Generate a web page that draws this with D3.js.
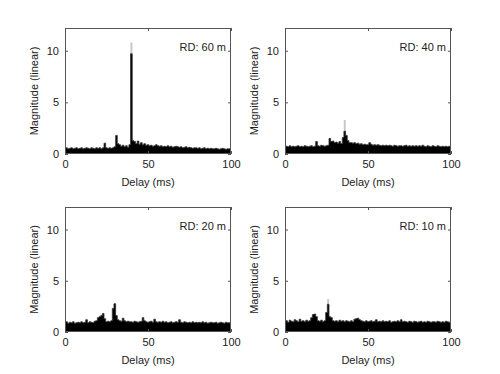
<!DOCTYPE html>
<html>
<head>
<meta charset="utf-8">
<script src="https://cdn.jsdelivr.net/npm/d3@7"></script>
<style>
  html, body { margin: 0; padding: 0; background: #fff; }
  svg { display: block; }
  text { font-family: "Liberation Sans", Arial, sans-serif; fill: #222; }
</style>
</head>
<body>
<svg id="chart" width="500" height="374"></svg>
<script>
// ---- data ----
const panelLabels = ["RD: 60 m", "RD: 40 m", "RD: 20 m", "RD: 10 m"];
const xTicks = [0, 50, 100];
const yTicks = [0, 5, 10];
const xLabel = "Delay (ms)";
const yLabel = "Magnitude (linear)";

// magnitude per 1 ms of delay, 0..100 ms
const magRD60 = [
  0.55,0.6,0.5,0.55,0.6,0.5,0.55,0.6,0.5,0.55,
  0.6,0.5,0.55,0.6,0.55,0.5,0.6,0.55,0.5,0.6,
  0.55,0.6,0.5,0.6,1.05,0.6,0.55,0.6,0.55,0.6,
  0.7,1.8,1.0,0.9,0.75,0.85,0.7,0.8,0.65,0.9,
  9.7,1.3,1.2,1.0,1.25,0.95,1.1,0.9,1.0,0.85,
  0.9,0.8,0.85,0.75,0.8,0.9,0.8,0.75,0.8,0.7,
  0.75,0.7,0.8,0.7,0.75,0.65,0.7,0.75,0.7,0.65,
  0.7,0.6,0.65,0.7,0.6,0.65,0.6,0.55,0.6,0.6,
  0.55,0.6,0.5,0.55,0.6,0.5,0.55,0.5,0.55,0.5,
  0.5,0.55,0.5,0.45,0.5,0.55,0.5,0.45,0.5,0.5,0.5
];
const magRD40 = [
  0.7,0.75,0.7,0.8,0.7,0.75,0.7,0.75,0.8,0.7,
  0.75,0.7,0.8,0.75,0.7,0.75,0.8,0.7,0.75,1.2,
  0.8,0.75,0.85,0.8,0.75,0.8,0.85,1.5,1.2,1.25,
  1.1,1.15,1.05,1.2,1.0,1.6,2.2,1.8,1.3,1.1,
  1.1,1.05,1.1,1.0,1.05,0.95,1.0,0.9,0.95,0.9,
  0.9,1.1,0.95,0.85,0.9,0.85,0.9,0.85,0.8,0.85,
  0.8,0.85,0.8,0.85,0.8,0.75,0.85,0.8,0.75,0.8,
  0.8,0.75,0.8,0.85,0.75,0.8,0.75,0.8,0.75,0.8,
  0.75,0.8,0.75,0.85,0.75,0.7,0.8,0.75,0.7,0.8,
  0.75,0.7,0.8,0.75,0.7,0.75,0.7,0.75,0.7,0.75,0.7
];
const magRD20 = [
  0.9,1.0,0.85,0.95,0.9,1.0,0.85,0.9,0.95,0.9,
  1.0,0.9,0.95,1.2,0.9,1.0,0.95,0.9,1.05,1.1,
  1.4,1.5,1.6,1.8,1.3,1.0,1.05,1.0,1.1,2.3,
  2.75,1.6,1.2,1.1,1.05,1.35,1.1,1.0,1.05,1.0,
  1.0,0.95,1.05,1.0,0.95,1.0,1.05,1.4,1.1,1.0,
  0.95,1.0,1.05,0.95,1.25,1.0,0.95,1.0,0.95,1.05,
  0.95,1.0,0.9,0.95,1.0,0.9,0.95,1.0,0.95,1.2,
  0.95,0.9,1.0,0.95,0.9,0.95,0.9,1.0,0.9,0.95,
  0.9,0.95,0.9,1.0,0.9,0.95,0.85,0.9,0.95,0.9,
  0.9,0.95,0.85,0.9,0.95,0.9,0.85,0.95,0.9,0.9,0.95
];
const magRD10 = [
  1.0,1.1,0.95,1.15,1.05,1.0,1.2,1.1,1.0,1.25,
  1.05,1.1,1.0,1.15,1.05,1.1,1.4,1.7,1.75,1.5,
  1.1,1.05,1.15,1.0,1.1,1.9,2.7,1.5,1.4,1.1,
  1.05,1.1,1.0,1.15,1.05,1.1,1.0,1.1,1.05,1.0,
  1.1,1.0,1.25,1.3,1.35,1.2,1.1,1.05,1.0,1.1,
  1.0,1.05,1.1,1.0,1.05,1.2,1.0,1.05,1.0,1.1,
  1.0,1.05,1.0,1.1,0.95,1.0,1.05,1.0,1.1,1.0,
  1.2,1.0,1.05,1.0,0.95,1.05,1.0,0.95,1.05,1.0,
  0.95,1.0,1.05,0.95,1.0,0.95,1.05,1.0,0.95,1.0,
  1.0,0.95,1.05,1.0,0.95,1.0,0.95,1.05,1.0,0.95,1.0
];
const magnitudes = [magRD60, magRD40, magRD20, magRD10];
// light grey trace reaching above the black one at the main peak
const peakDelay = [40, 36, 30, 26];
const peakGrey = [10.8, 3.3, 2.8, 3.2];

// ---- layout ----
const panels = [
  { x0: 65,  x1: 231, y0: 28,  y1: 154 },
  { x0: 285, x1: 451, y0: 28,  y1: 154 },
  { x0: 65,  x1: 231, y0: 207, y1: 332 },
  { x0: 285, x1: 451, y0: 207, y1: 332 }
];

const svg = d3.select("#chart");
const axisColor = "#555";

panels.forEach((p, i) => {
  const x = d3.scaleLinear().domain([0, 100]).range([p.x0, p.x1]);
  const y = d3.scaleLinear().domain([0, 12.2]).range([p.y1, p.y0]);
  const g = svg.append("g");
  const clipId = "clip" + i;
  svg.append("clipPath").attr("id", clipId)
    .append("rect").attr("x", p.x0).attr("y", p.y0)
    .attr("width", p.x1 - p.x0).attr("height", p.y1 - p.y0);

  const data = magnitudes[i].map((v, k) => ({ t: k, v }));
  const plot = g.append("g").attr("clip-path", `url(#${clipId})`);

  // grey peak
  plot.append("line")
    .attr("x1", x(peakDelay[i])).attr("x2", x(peakDelay[i]))
    .attr("y1", y(0)).attr("y2", y(peakGrey[i]))
    .attr("stroke", "#c8c8c8").attr("stroke-width", 2);

  const area = d3.area()
    .x(d => x(d.t)).y0(y(0)).y1(d => y(d.v))
    .curve(d3.curveStep);
  plot.append("path").datum(data)
    .attr("d", area).attr("fill", "#000");
  plot.append("path").datum(data)
    .attr("d", d3.line().x(d => x(d.t)).y(d => y(d.v)).curve(d3.curveStep))
    .attr("fill", "none").attr("stroke", "#333").attr("stroke-width", 0.8);

  // box
  g.append("rect").attr("x", p.x0 + 0.5).attr("y", p.y0 + 0.5)
    .attr("width", p.x1 - p.x0 - 1).attr("height", p.y1 - p.y0 - 1)
    .attr("fill", "none").attr("stroke", axisColor).attr("stroke-width", 1);

  // axes (MATLAB-like inward ticks)
  const xb = g.append("g").attr("transform", `translate(0,${p.y1})`)
    .call(d3.axisBottom(x).tickValues(xTicks).tickSize(-3).tickPadding(6).tickFormat(d3.format("d")));
  const xt = g.append("g").attr("transform", `translate(0,${p.y0})`)
    .call(d3.axisTop(x).tickValues(xTicks).tickSize(-3).tickFormat(""));
  const yl = g.append("g").attr("transform", `translate(${p.x0},0)`)
    .call(d3.axisLeft(y).tickValues(yTicks).tickSize(-3).tickPadding(6).tickFormat(d3.format("d")));
  const yr = g.append("g").attr("transform", `translate(${p.x1},0)`)
    .call(d3.axisRight(y).tickValues(yTicks).tickSize(-3).tickFormat(""));
  [xb, xt, yl, yr].forEach(a => {
    a.select(".domain").remove();
    a.selectAll(".tick line").attr("stroke", axisColor);
    a.selectAll("text").attr("font-size", 11).attr("fill", "#222")
      .attr("font-family", "'Liberation Sans', Arial, sans-serif");
  });

  g.append("text").attr("x", (p.x0 + p.x1) / 2).attr("y", p.y1 + 32)
    .attr("text-anchor", "middle").attr("font-size", 11).text(xLabel);
  g.append("text")
    .attr("transform", `translate(${p.x0 - 27},${(p.y0 + p.y1) / 2}) rotate(-90)`)
    .attr("text-anchor", "middle").attr("font-size", 11).text(yLabel);
  g.append("text").attr("x", p.x1 - 5).attr("y", p.y0 + 23)
    .attr("text-anchor", "end").attr("font-size", 11).text(panelLabels[i]);
});
</script>
</body>
</html>
